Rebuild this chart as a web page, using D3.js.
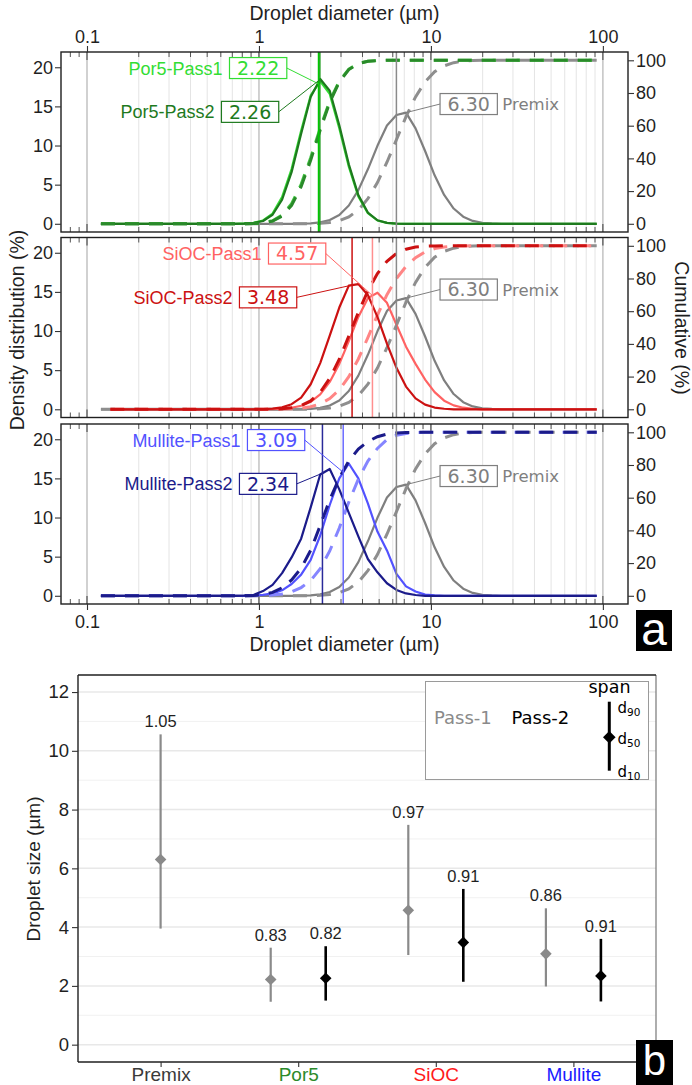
<!DOCTYPE html>
<html>
<head>
<meta charset="utf-8">
<script src="https://cdn.jsdelivr.net/npm/d3@7"></script>
<style>
  html, body { margin: 0; padding: 0; background: #fff; }
  svg { display: block; }
</style>
</head>
<body>
<svg id="chart" width="692" height="1085"></svg>
<script>
// ---------------- data ----------------
// droplet size class centres (µm)
const sizes = [
  0.1205, 0.1369, 0.1556, 0.1768, 0.2009, 0.2282, 0.2593, 0.2946, 0.3346, 0.3802,
  0.4319, 0.4907, 0.5576, 0.6334, 0.7200, 0.8180, 0.9292, 1.056, 1.200, 1.363,
  1.548, 1.759, 1.999, 2.271, 2.580, 2.932, 3.331, 3.784, 4.299, 4.886,
  5.551, 6.305, 7.165, 8.140, 9.250, 10.51, 11.94, 13.56, 15.41, 17.51,
  19.89, 22.60, 25.67, 29.17, 33.15, 37.66, 42.79, 48.63, 55.24, 62.77,
  71.31, 81.02, 92.05
];

// density distribution (%) per size class
const premix = [
  0, 0, 0, 0, 0, 0, 0, 0, 0, 0,
  0, 0, 0, 0, 0, 0, 0, 0, 0, 0,
  0, 0.02, 0.06, 0.18, 0.48, 1.13, 2.34, 4.30, 6.96, 9.96,
  12.55, 13.90, 14.20, 12.20, 9.30, 6.19, 3.69, 1.95, 0.91, 0.37,
  0.13, 0.04, 0, 0, 0, 0, 0, 0, 0, 0,
  0, 0, 0
];
const por5Pass1 = [
  0, 0, 0, 0, 0, 0, 0, 0, 0, 0,
  0, 0, 0, 0, 0, 0.04, 0.12, 0.42, 1.30, 3.40,
  7.00, 11.90, 16.40, 18.20, 16.60, 12.20, 7.30, 3.50, 1.35, 0.42,
  0.11, 0.03, 0, 0, 0, 0, 0, 0, 0, 0,
  0, 0, 0, 0, 0, 0, 0, 0, 0, 0,
  0, 0, 0
];
const por5Pass2 = [
  0, 0, 0, 0, 0, 0, 0, 0, 0, 0,
  0, 0, 0, 0, 0, 0.03, 0.10, 0.35, 1.15, 3.07,
  6.60, 11.50, 16.20, 18.50, 17.00, 12.60, 7.60, 3.66, 1.43, 0.45,
  0.12, 0.03, 0, 0, 0, 0, 0, 0, 0, 0,
  0, 0, 0, 0, 0, 0, 0, 0, 0, 0,
  0, 0, 0
];
const siocPass1 = [
  null, 0, 0, 0, 0, 0, 0, 0, 0, 0,
  0, 0, 0, 0, 0, 0, 0, 0, 0.03, 0.08,
  0.20, 0.45, 0.95, 1.90, 3.50, 5.80, 8.70, 11.80, 14.20, 14.90,
  13.60, 10.80, 8.00, 5.80, 3.80, 2.20, 1.10, 0.50, 0.20, 0.07,
  0, 0, 0, 0, 0, 0, 0, 0, 0, 0,
  0, 0, 0
];
const siocPass2 = [
  null, 0, 0, 0, 0, 0, 0, 0, 0, 0,
  0, 0, 0, 0, 0, 0, 0, 0.03, 0.08, 0.25,
  0.65, 1.50, 3.20, 5.90, 9.40, 13.00, 15.80, 16.00, 14.60, 11.80,
  8.40, 5.30, 2.90, 1.40, 0.60, 0.22, 0.07, 0, 0, 0,
  0, 0, 0, 0, 0, 0, 0, 0, 0, 0,
  0, 0, 0
];
const mullitePass1 = [
  0, 0, 0, 0, 0, 0, 0, 0, 0, 0,
  0, 0, 0, 0, 0, 0, 0.04, 0.12, 0.30, 0.70,
  1.50, 2.70, 4.60, 7.70, 11.60, 15.00, 16.90, 15.00, 11.80, 8.20,
  5.80, 2.80, 1.20, 0.55, 0.15, 0.05, 0, 0, 0, 0,
  0, 0, 0, 0, 0, 0, 0, 0, 0, 0,
  0, 0, 0
];
const mullitePass2 = [
  0, 0, 0, 0, 0, 0, 0, 0, 0, 0,
  0, 0, 0, 0, 0, 0.03, 0.10, 0.60, 1.40, 2.90,
  4.90, 7.30, 11.30, 15.50, 16.20, 13.60, 10.60, 7.60, 4.70, 3.00,
  1.60, 0.75, 0.30, 0.10, 0, 0, 0, 0, 0, 0,
  0, 0, 0, 0, 0, 0, 0, 0, 0, 0,
  0, 0, 0
];

const samples = ["Por5", "SiOC", "Mullite"];
const premixD50 = 6.30;
const pass1D50 = [2.22, 4.57, 3.09];
const pass2D50 = [2.26, 3.48, 2.34];

// summary statistics (µm) for the span plot
const groups = ["Premix", "Por5", "SiOC", "Mullite"];
const statGroup = ["Premix", "Por5", "Por5", "SiOC", "SiOC", "Mullite", "Mullite"];
const statPass = [1, 1, 2, 1, 2, 1, 2];
const statD10 = [3.95, 1.46, 1.50, 3.05, 2.14, 1.98, 1.47];
const statD50 = [premixD50, pass1D50[0], pass2D50[0], pass1D50[1], pass2D50[1], pass1D50[2], pass2D50[2]];
const statD90 = [10.56, 3.30, 3.35, 7.48, 5.30, 4.64, 3.60];

const xTickValues = [0.1, 1, 10, 100];
const densTicks = [0, 5, 10, 15, 20];
const cumTicks = [0, 20, 40, 60, 80, 100];
const sizeTicks = [0, 2, 4, 6, 8, 10, 12];

// ---------------- styles ----------------
const SANS = "'Liberation Sans', Arial, Helvetica, sans-serif";
const DJV = "'DejaVu Sans', Verdana, sans-serif";
const INK = "#1f1f1f";
const premixColor = "#7f7f7f", premixDash = "#8e8e8e";
const pass1Color = ["#33dd33", "#ff6262", "#5252ff"];
const pass1Dash = ["#45c845", "#ff8585", "#8585ff"];
const pass2Color = ["#1e7a1e", "#cc1111", "#1b1b8a"];
const pass2Dash = ["#2a8a2a", "#cc1111", "#1b1b8a"];
const vline1Color = ["#00c800", "#ff8f8f", "#6a6aff"];
const vline2Color = ["#1d9a1d", "#cc1111", "#2a2a9a"];
const groupColor = ["#3a3a3a", "#2b8a2b", "#ff1a1a", "#1a1aff"];

// label anchor points (box left edge in µm, vertical centre in density units)
const passLabelBoxX = [[0.674, 0.605], [1.136, 0.77], [0.857, 0.77]];
const passLabelLevel = [19.9, 14.3];
const premixLabelAt = [11.3, 15.3];

const svg = d3.select("#chart");
const fmt2 = d3.format(".2f");

function cumulative(vals) {
  const total = d3.sum(vals);
  let run = 0;
  return vals.map(v => v == null ? null : (run += v, 100 * run / total));
}
function densityAt(vals, d) {
  for (let i = 0; i < sizes.length - 1; i++) {
    if (vals[i] == null || vals[i + 1] == null) continue;
    if (sizes[i] <= d && d <= sizes[i + 1]) {
      const t = Math.log(d / sizes[i]) / Math.log(sizes[i + 1] / sizes[i]);
      return vals[i] + t * (vals[i + 1] - vals[i]);
    }
  }
  return 0;
}

// ---------------- panel a : distributions ----------------
const A = { left: 61, right: 628, tops: [52, 237.5, 424], h: 180 };
const x = d3.scaleLog().domain([0.0706, 140]).range([A.left, A.right]);
const minorX = [];
[0.1, 1, 10].forEach(b => d3.range(2, 10).forEach(n => minorX.push(+(n * b).toPrecision(3))));
const logTicks = [0.08, 0.09].concat(minorX);
const cumFull = 20.89; // density level that lines up with 100 % cumulative

samples.forEach((name, k) => {
  const top = A.tops[k], bottom = top + A.h;
  const y = d3.scaleLinear().domain([-1.05, 21.95]).range([bottom, top]);
  const yc = d3.scaleLinear().domain([0, 100]).range([y(0), y(cumFull)]);
  const g = svg.append("g");

  // vertical grid
  g.selectAll("line.minor").data(minorX).join("line")
    .attr("x1", d => x(d)).attr("x2", d => x(d)).attr("y1", top).attr("y2", bottom)
    .attr("stroke", "#e4e4e4").attr("stroke-width", 1);
  g.selectAll("line.major").data(xTickValues).join("line")
    .attr("x1", d => x(d)).attr("x2", d => x(d)).attr("y1", top).attr("y2", bottom)
    .attr("stroke", "#c6c6c6").attr("stroke-width", 1.6);

  // log ticks along the top and bottom borders
  [[top, 1], [bottom, -1]].forEach(([yy, dir]) => {
    g.selectAll(null).data(logTicks).join("line")
      .attr("x1", d => x(d)).attr("x2", d => x(d))
      .attr("y1", yy).attr("y2", d => yy + dir * 5)
      .attr("stroke", "#555").attr("stroke-width", 1);
    g.selectAll(null).data(xTickValues).join("line")
      .attr("x1", d => x(d)).attr("x2", d => x(d))
      .attr("y1", yy).attr("y2", yy + dir * 8)
      .attr("stroke", "#555").attr("stroke-width", 1.2);
  });

  const series = [
    { vals: premix, color: premixColor, dash: premixDash },
    { vals: [por5Pass1, siocPass1, mullitePass1][k], color: pass1Color[k], dash: pass1Dash[k] },
    { vals: [por5Pass2, siocPass2, mullitePass2][k], color: pass2Color[k], dash: pass2Dash[k] }
  ];
  const lineOf = ys => d3.line().defined(d => d.v != null).x(d => x(d.s)).y(d => ys(d.v));
  series.forEach(s => {
    const pts = sizes.map((sz, i) => ({ s: sz, v: s.vals[i] }));
    const cum = cumulative(s.vals);
    const cpts = sizes.map((sz, i) => ({ s: sz, v: cum[i] }));
    g.append("path").attr("d", lineOf(y)(pts))
      .attr("fill", "none").attr("stroke", s.color).attr("stroke-width", 2.2)
      .attr("stroke-linejoin", "round");
    g.append("path").attr("d", lineOf(yc)(cpts))
      .attr("fill", "none").attr("stroke", s.dash).attr("stroke-width", 3)
      .attr("stroke-dasharray", "14,10");
  });

  // median lines
  const vl = [
    { d: premixD50, c: "#8a8a8a", w: 1.5 },
    { d: pass2D50[k], c: vline2Color[k], w: 1.5 },
    { d: pass1D50[k], c: vline1Color[k], w: 1.5 }
  ];
  g.selectAll(null).data(vl).join("line")
    .attr("x1", d => x(d.d)).attr("x2", d => x(d.d)).attr("y1", top).attr("y2", bottom)
    .attr("stroke", d => d.c).attr("stroke-width", d => d.w);

  // boxed median labels
  function valueBox(x0, cy, txt, color) {
    const t = g.append("text").attr("x", x0 + 7.5).attr("y", cy + 6.9)
      .attr("font-family", DJV).attr("font-size", 19).attr("fill", color).text(txt);
    const w = t.node().getComputedTextLength() + 15;
    g.insert("rect", () => t.node()).attr("x", x0).attr("y", cy - 10.5)
      .attr("width", w).attr("height", 21)
      .attr("fill", "#fff").attr("stroke", color).attr("stroke-width", 1.2);
    return w;
  }
  const passVals = [series[1].vals, series[2].vals];
  const passD50 = [pass1D50[k], pass2D50[k]];
  const passCol = [pass1Color[k], pass2Color[k]];
  [0, 1].forEach(j => {
    const x0 = x(passLabelBoxX[k][j]), cy = y(passLabelLevel[j]);
    const px = x(passD50[j]), py = y(densityAt(passVals[j], passD50[j]));
    const w = valueBox(x0, cy, fmt2(passD50[j]), passCol[j]);
    g.append("line").attr("x1", x0 + w).attr("y1", cy).attr("x2", px).attr("y2", py)
      .attr("stroke", passCol[j]).attr("stroke-width", 1);
    g.append("text").attr("x", x0 - 7).attr("y", cy + 6.5).attr("text-anchor", "end")
      .attr("font-family", SANS).attr("font-size", 18).attr("fill", passCol[j])
      .text(name + "-Pass" + (j + 1));
  });
  {
    const x0 = x(premixLabelAt[0]), cy = y(premixLabelAt[1]);
    const w = valueBox(x0, cy, fmt2(premixD50), premixColor);
    g.append("line").attr("x1", x0).attr("y1", cy)
      .attr("x2", x(premixD50)).attr("y2", y(densityAt(premix, premixD50)))
      .attr("stroke", premixColor).attr("stroke-width", 1);
    g.append("text").attr("x", x0 + w + 5).attr("y", cy + 6)
      .attr("font-family", DJV).attr("font-size", 16.5).attr("fill", premixColor)
      .text("Premix");
  }

  // panel border
  g.append("rect").attr("x", A.left).attr("y", top).attr("width", A.right - A.left).attr("height", A.h)
    .attr("fill", "none").attr("stroke", INK).attr("stroke-width", 1.4);

  // y axes
  const left = svg.append("g").attr("transform", `translate(${A.left},0)`)
    .call(d3.axisLeft(y).tickValues(densTicks).tickSize(6).tickPadding(2));
  const right = svg.append("g").attr("transform", `translate(${A.right},0)`)
    .call(d3.axisRight(yc).tickValues(cumTicks).tickSize(6).tickPadding(2));
  [left, right].forEach(ax => {
    ax.select(".domain").remove();
    ax.selectAll("line").attr("stroke", "#333").attr("stroke-width", 1.1);
    ax.selectAll("text").attr("font-family", SANS).attr("font-size", 18).attr("fill", INK);
  });

  if (k === 0) {
    const ax = svg.append("g").attr("transform", `translate(0,${top})`)
      .call(d3.axisTop(x).tickValues(xTickValues).tickFormat(d3.format("~g")).tickSize(6).tickPadding(3));
    ax.select(".domain").remove();
    ax.selectAll("line").attr("stroke", "#333").attr("stroke-width", 1.1);
    ax.selectAll("text").attr("font-family", SANS).attr("font-size", 18).attr("fill", INK);
  }
  if (k === 2) {
    const ax = svg.append("g").attr("transform", `translate(0,${bottom})`)
      .call(d3.axisBottom(x).tickValues(xTickValues).tickFormat(d3.format("~g")).tickSize(6).tickPadding(5));
    ax.select(".domain").remove();
    ax.selectAll("line").attr("stroke", "#333").attr("stroke-width", 1.1);
    ax.selectAll("text").attr("font-family", SANS).attr("font-size", 18).attr("fill", INK);
  }
});

// axis titles, panel a
svg.append("text").attr("x", 344.5).attr("y", 20).attr("text-anchor", "middle")
  .attr("font-family", SANS).attr("font-size", 19.5).attr("fill", INK).text("Droplet diameter (µm)");
svg.append("text").attr("x", 344.5).attr("y", 651).attr("text-anchor", "middle")
  .attr("font-family", SANS).attr("font-size", 19.5).attr("fill", INK).text("Droplet diameter (µm)");
svg.append("text").attr("transform", "translate(24,330) rotate(-90)").attr("text-anchor", "middle")
  .attr("font-family", SANS).attr("font-size", 19.5).attr("fill", INK).text("Density distribution (%)");
svg.append("text").attr("transform", "translate(675,328) rotate(90)").attr("text-anchor", "middle")
  .attr("font-family", SANS).attr("font-size", 19.5).attr("fill", INK).text("Cumulative (%)");

// panel tag "a"
svg.append("rect").attr("x", 636).attr("y", 610).attr("width", 36).attr("height", 41).attr("fill", "#000");
svg.append("text").attr("x", 654).attr("y", 645).attr("text-anchor", "middle")
  .attr("font-family", SANS).attr("font-size", 46).attr("fill", "#fff").text("a");

// ---------------- panel b : span plot ----------------
const B = { left: 78, right: 656, top: 675, bottom: 1062 };
const bx = d3.scalePoint().domain(groups).range([160.6, 573.4]);
const by = d3.scaleLinear().domain([-0.59, 12.58]).range([B.bottom, B.top]);
const dodge = 27.5;
const gb = svg.append("g");

gb.selectAll(null).data(d3.range(1, 13, 2)).join("line")
  .attr("x1", B.left).attr("x2", B.right).attr("y1", d => by(d)).attr("y2", d => by(d))
  .attr("stroke", "#f1f1f1").attr("stroke-width", 1);
gb.selectAll(null).data(sizeTicks).join("line")
  .attr("x1", B.left).attr("x2", B.right).attr("y1", d => by(d)).attr("y2", d => by(d))
  .attr("stroke", "#e8e8e8").attr("stroke-width", 1.5);

const stats = statGroup.map((gname, i) => ({
  g: gname, pass: statPass[i], d10: statD10[i], d50: statD50[i], d90: statD90[i],
  cx: bx(gname) + (gname === "Premix" ? 0 : (statPass[i] === 1 ? -dodge : dodge))
}));
const diamond = r => `M0,${-r}L${r},0L0,${r}L${-r},0Z`;

stats.forEach(s => {
  const col = s.pass === 1 ? "#8a8a8a" : "#000";
  gb.append("line").attr("x1", s.cx).attr("x2", s.cx).attr("y1", by(s.d10)).attr("y2", by(s.d90))
    .attr("stroke", col).attr("stroke-width", s.pass === 1 ? 2.2 : 2.6);
  gb.append("path").attr("d", diamond(5.8)).attr("transform", `translate(${s.cx},${by(s.d50)})`)
    .attr("fill", col);
  gb.append("text").attr("x", s.cx).attr("y", by(s.d90) - 7).attr("text-anchor", "middle")
    .attr("font-family", SANS).attr("font-size", 16.5).attr("fill", INK)
    .text(fmt2((s.d90 - s.d10) / s.d50));
});

// legend
const lg = svg.append("g");
lg.append("rect").attr("x", 425.5).attr("y", 681.5).attr("width", 223).attr("height", 98)
  .attr("fill", "#fff").attr("stroke", "#9a9a9a").attr("stroke-width", 1);
lg.append("text").attr("x", 434).attr("y", 724).attr("font-family", DJV).attr("font-size", 18)
  .attr("fill", "#8a8a8a").text("Pass-1");
lg.append("text").attr("x", 511.5).attr("y", 724).attr("font-family", DJV).attr("font-size", 18)
  .attr("fill", "#000").text("Pass-2");
lg.append("line").attr("x1", 609.3).attr("x2", 609.3).attr("y1", 701.7).attr("y2", 770.7)
  .attr("stroke", "#000").attr("stroke-width", 3);
lg.append("path").attr("d", diamond(6.3)).attr("transform", "translate(609.3,737.3)").attr("fill", "#000");
lg.append("text").attr("x", 609.5).attr("y", 693).attr("text-anchor", "middle")
  .attr("font-family", DJV).attr("font-size", 17.5).attr("fill", "#000").text("span");
[["90", 713.3], ["50", 744], ["10", 776.7]].forEach(([sub, yy]) => {
  const t = lg.append("text").attr("x", 617.5).attr("y", yy)
    .attr("font-family", DJV).attr("font-size", 15).attr("fill", "#000");
  t.append("tspan").text("d");
  t.append("tspan").attr("font-size", 10.5).attr("dy", 3).text(sub);
});

// frame and axes, panel b
gb.append("line").attr("x1", B.right).attr("x2", B.right).attr("y1", B.top).attr("y2", B.bottom)
  .attr("stroke", "#777").attr("stroke-width", 1.2);
gb.append("line").attr("x1", B.left).attr("x2", B.right).attr("y1", B.top).attr("y2", B.top)
  .attr("stroke", INK).attr("stroke-width", 1.4);
gb.append("line").attr("x1", B.left).attr("x2", B.left).attr("y1", B.top).attr("y2", B.bottom)
  .attr("stroke", INK).attr("stroke-width", 1.4);
gb.append("line").attr("x1", B.left).attr("x2", B.right).attr("y1", B.bottom).attr("y2", B.bottom)
  .attr("stroke", INK).attr("stroke-width", 1.4);

const bl = svg.append("g").attr("transform", `translate(${B.left},0)`)
  .call(d3.axisLeft(by).tickValues(sizeTicks).tickSize(6).tickPadding(3));
bl.select(".domain").remove();
bl.selectAll("line").attr("stroke", "#333").attr("stroke-width", 1.1);
bl.selectAll("text").attr("font-family", SANS).attr("font-size", 18.5).attr("fill", INK);

const bb = svg.append("g").attr("transform", `translate(0,${B.bottom})`)
  .call(d3.axisBottom(bx).tickSize(5).tickPadding(1));
bb.select(".domain").remove();
bb.selectAll("line").attr("stroke", "#333").attr("stroke-width", 1.1);
bb.selectAll("text").attr("font-family", SANS).attr("font-size", 19)
  .attr("fill", (d, i) => groupColor[i]);

svg.append("text").attr("transform", "translate(40,869) rotate(-90)").attr("text-anchor", "middle")
  .attr("font-family", SANS).attr("font-size", 19).attr("fill", INK).text("Droplet size (µm)");

// panel tag "b"
svg.append("rect").attr("x", 636).attr("y", 1040).attr("width", 37).attr("height", 45).attr("fill", "#000");
svg.append("text").attr("x", 654.5).attr("y", 1075).attr("text-anchor", "middle")
  .attr("font-family", SANS).attr("font-size", 42).attr("fill", "#fff").text("b");
</script>
</body>
</html>
